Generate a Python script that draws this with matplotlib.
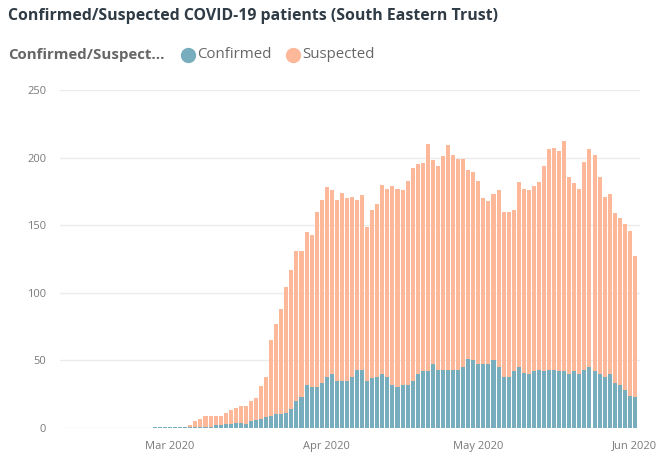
import matplotlib
matplotlib.use("Agg")
import matplotlib.pyplot as plt
import matplotlib.dates as mdates
from matplotlib.lines import Line2D
import pandas as pd

plt.rcParams['font.family'] = ['Open Sans', 'DejaVu Sans']

# daily patients, 27 Feb 2020 .. 1 Jun 2020
start_date = '2020-02-27'
confirmed = [1, 1, 1, 1, 1, 1, 1, 1, 1, 1,
             1, 1, 2, 2, 3, 3, 4, 4, 3, 5,
             6, 7, 8, 9, 10, 10, 11, 14, 20, 23,
             32, 30, 30, 33, 38, 40, 35, 35, 35, 38,
             43, 43, 35, 37, 38, 40, 38, 32, 30, 32,
             32, 35, 40, 42, 42, 47, 43, 43, 43, 43,
             43, 45, 51, 50, 47, 47, 47, 50, 45, 38,
             38, 42, 45, 41, 40, 42, 43, 42, 43, 43,
             42, 42, 40, 42, 40, 43, 45, 42, 40, 38,
             40, 33, 32, 28, 24, 23]
suspected = [0, 0, 0, 0, 0, 0, 0, 1, 4, 6,
             8, 8, 7, 7, 8, 10, 11, 12, 13, 15,
             16, 24, 30, 56, 67, 78, 93, 103, 111, 108,
             113, 113, 130, 136, 140, 136, 134, 139, 135, 133,
             126, 129, 114, 124, 128, 140, 139, 147, 147, 144,
             151, 157, 155, 154, 168, 151, 151, 158, 166, 159,
             156, 154, 140, 139, 136, 123, 121, 123, 131, 122,
             122, 119, 137, 136, 136, 137, 139, 152, 163, 164,
             163, 170, 146, 139, 137, 154, 161, 160, 146, 133,
             133, 126, 123, 123, 122, 104]

series_names = ['Confirmed', 'Suspected']
legend_title = 'Confirmed/Suspect...'
title = 'Confirmed/Suspected COVID-19 patients (South Eastern Trust)'

dates = pd.date_range(start_date, periods=len(confirmed))

c_conf = '#78adbe'
c_susp = '#fdb899'
grey = '#7a7a7a'

fig = plt.figure(figsize=(6.66, 4.69), dpi=100)
ax = fig.add_axes([60 / 666, 1 - 428 / 469, 580 / 666, 338 / 469])

x = mdates.date2num(dates)
ax.bar(x, confirmed, width=0.8, color=c_conf, zorder=2)
ax.bar(x, suspected, width=0.8, bottom=confirmed, color=c_susp, zorder=2)

ax.set_ylim(0, 250)
ax.set_yticks(range(0, 251, 50))
ax.set_xlim(x[0] - 18.8, x[-1] + 1.0)
ax.xaxis.set_major_locator(mdates.MonthLocator())
ax.xaxis.set_major_formatter(mdates.DateFormatter('%b %Y'))

ax.grid(axis='y', color='#ebebeb', linewidth=1, zorder=0)
for s in ax.spines.values():
    s.set_visible(False)
ax.tick_params(axis='both', length=0, labelsize=8, labelcolor=grey)
ax.tick_params(axis='y', pad=10)
ax.tick_params(axis='x', pad=9)

# title and legend row, placed in pixels like the original layout
def fx(px):
    return px / 666

def fy(py):
    return 1 - py / 469

fig.text(fx(8), fy(16), title, fontsize=11.4, fontweight='bold',
         color='#2f3b45', va='center', ha='left')
fig.text(fx(8), fy(55), legend_title, fontsize=10.8, fontweight='bold',
         color='#666666', va='center', ha='left')

for name, col, cx in zip(series_names, (c_conf, c_susp), (188, 293)):
    fig.add_artist(Line2D([fx(cx)], [fy(55)], marker='o', linestyle='none',
                          markersize=10, markerfacecolor=col,
                          markeredgecolor=col, transform=fig.transFigure))
    fig.text(fx(cx + 9), fy(55), name, fontsize=10.8, color='#666666',
             va='center', ha='left')

fig.savefig('out.png', dpi=100)
